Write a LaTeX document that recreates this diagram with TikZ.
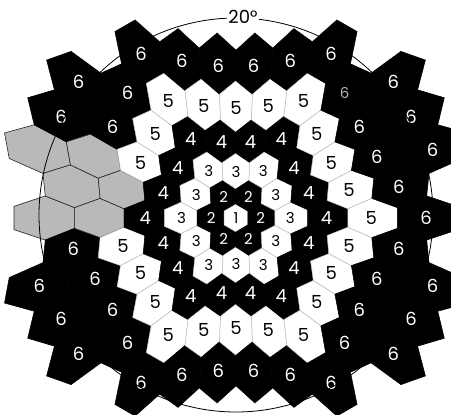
\documentclass[tikz,border=0pt]{standalone}
\usepackage{fontspec}
\setmainfont{Poppins}
\tikzset{
  hexwhite/.style={fill=white,draw=gray!55,line width=0.5pt},
  hexblack/.style={fill=black,draw=black,line width=0.5pt},
  hexgray/.style={fill=gray!55,draw=gray!30!black,line width=0.6pt},
  numsmall/.style={inner sep=0pt,font=\fontsize{15}{15}\selectfont},
  numbig/.style={inner sep=0pt,font=\fontsize{18}{18}\selectfont},
  fieldcircle/.style={draw=black,line width=0.8pt}
}

\begin{document}
\begin{tikzpicture}[x=1pt,y=-1pt]
  \useasboundingbox (0,0) rectangle (451,415);
  % hexagons, scaled outwards with eccentricity
  \foreach \q in {-6,...,6}{
    \foreach \r in {-6,...,6}{
      \pgfmathtruncatemacro\dd{max(abs(\q),abs(\r),abs(\q+(\r)))}
      \pgfmathtruncatemacro\keep{(\dd<=5) || (\dd==6 && abs(\r)>=2 && abs(\r)<=4)}
      \ifnum\keep=1
        \pgfmathtruncatemacro\ring{min(\dd,5)+1}
        \pgfmathtruncatemacro\isgray{(\r==0 && (\q==-4 || \q==-5)) || (\r==-1 && (\q==-3 || \q==-4)) || (\r==-2 && (\q==-3 || \q==-4))}
        \pgfmathsetmacro\hx{\q+0.5*\r}
        \pgfmathsetmacro\hy{0.866025*\r}
        \foreach \t [count=\k] in {30,90,...,330}{
          \pgfmathsetmacro\vx{\hx+0.57735*cos(\t)}
          \pgfmathsetmacro\vy{\hy+0.57735*sin(\t)}
          \pgfmathsetmacro\vs{23+1.5*veclen(\vx,\vy)+0.3*(\vx*\vx+\vy*\vy)}
          \coordinate (v\k) at ({236+\vx*\vs},{218+\vy*\vs});
        }
        \pgfmathsetmacro\cs{23+1.5*veclen(\hx,\hy)+0.3*(\hx*\hx+\hy*\hy)}
        \pgfmathtruncatemacro\idx{(\q+6)*13+\r+6}
        \ifnum\isgray=1
          \draw[hexgray] (v1)--(v2)--(v3)--(v4)--(v5)--(v6)--cycle;
        \else
          \ifodd\ring
            \draw[hexwhite] (v1)--(v2)--(v3)--(v4)--(v5)--(v6)--cycle;
            \node[numsmall,text=black] (lbl\idx) at ({236+\hx*\cs},{218+\hy*\cs}) {\ifnum\ring=5 \fontsize{18}{18}\selectfont\fi\ring};
          \else
            \draw[hexblack] (v1)--(v2)--(v3)--(v4)--(v5)--(v6)--cycle;
            \ifnum\idx=145
              \node[numsmall,text=gray!60] (lbl\idx) at ({236+\hx*\cs},{218+\hy*\cs}) {\ring};
            \else
              \node[numbig,text=white] (lbl\idx) at ({236+\hx*\cs},{218+\hy*\cs}) {\ifnum\ring=2 \fontsize{15}{15}\selectfont\fi\ring};
            \fi
          \fi
        \fi
      \fi
    }
  }
  % 20 degree field
  \draw[fieldcircle] (236,215) circle[radius=197pt];
  \node[numbig,fill=white,inner sep=1pt] (field) at (243,17) {20°};
\end{tikzpicture}
\end{document}
